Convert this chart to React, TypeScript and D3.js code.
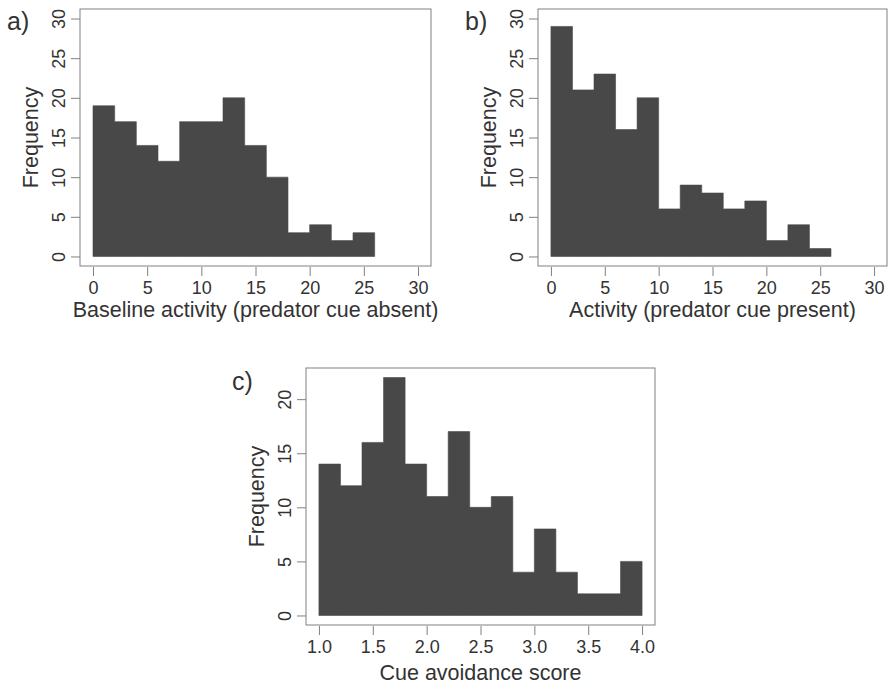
import React, { useEffect, useRef } from 'react';
import * as d3 from 'd3';

// histogram counts
const baselineEdges = [0, 2, 4, 6, 8, 10, 12, 14, 16, 18, 20, 22, 24, 26];
const baselineCounts = [19, 17, 14, 12, 17, 17, 20, 14, 10, 3, 4, 2, 3];

const presentEdges = [0, 2, 4, 6, 8, 10, 12, 14, 16, 18, 20, 22, 24, 26];
const presentCounts = [29, 21, 23, 16, 20, 6, 9, 8, 6, 7, 2, 4, 1];

const avoidanceEdges = [1.0, 1.2, 1.4, 1.6, 1.8, 2.0, 2.2, 2.4, 2.6, 2.8, 3.0, 3.2, 3.4, 3.6, 3.8, 4.0];
const avoidanceCounts = [14, 12, 16, 22, 14, 11, 17, 10, 11, 4, 8, 4, 2, 2, 5];

const activityTicks = [0, 5, 10, 15, 20, 25, 30];
const freqTicks = [0, 5, 10, 15, 20, 25, 30];
const avoidanceTicks = [1.0, 1.5, 2.0, 2.5, 3.0, 3.5, 4.0];
const avoidanceFreqTicks = [0, 5, 10, 15, 20];

const FONT = '"Liberation Sans", Arial, Helvetica, sans-serif';
const BAR = '#484848';
const FRAME = '#808080';
const INK = '#333';

type Panel = {
  edges: number[];
  counts: number[];
  xDomain: [number, number];
  yDomain: [number, number];
  box: { left: number; right: number; top: number; bottom: number };
  xTicks: number[];
  yTicks: number[];
  xFormat: (d: number) => string;
  xTitle: string;
  titleOffset: number;
  label: string;
  labelX: number;
  labelY: number;
};

const drawPanel = (svg: any, p: Panel) => {
  const { box } = p;
  const x = d3.scaleLinear().domain(p.xDomain).range([box.left, box.right]);
  const y = d3.scaleLinear().domain(p.yDomain).range([box.bottom, box.top]);
  const g = svg.append('g');

  // bars as one stepped area so neighbouring bins don't show seams
  const steps = p.edges.map((e, i) => ({ x0: e, n: p.counts[Math.min(i, p.counts.length - 1)] }));
  const area = d3
    .area<{ x0: number; n: number }>()
    .x((d) => x(d.x0))
    .y0(y(0))
    .y1((d) => y(d.n))
    .curve(d3.curveStepAfter);
  g.append('path')
    .attr('d', area(steps))
    .attr('fill', BAR)
    .attr('stroke', BAR)
    .attr('stroke-width', 0.6);

  // frame
  g.append('rect')
    .attr('x', box.left)
    .attr('y', box.top)
    .attr('width', box.right - box.left)
    .attr('height', box.bottom - box.top)
    .attr('fill', 'none')
    .attr('stroke', FRAME)
    .attr('stroke-width', 1);

  // x axis
  const xAxis = d3
    .axisBottom(x)
    .tickValues(p.xTicks)
    .tickSize(9)
    .tickFormat((d: any) => p.xFormat(d));
  const xg = g.append('g').attr('transform', `translate(0,${box.bottom + 1})`).call(xAxis);
  xg.select('.domain').remove();
  xg.selectAll('line').attr('stroke', FRAME);
  xg.selectAll('text')
    .attr('font-family', FONT)
    .attr('font-size', 18)
    .attr('fill', INK)
    .attr('dy', null)
    .attr('y', 27);

  // y axis (rotated labels like R's default las=0)
  const yAxis = d3.axisLeft(y).tickValues(p.yTicks).tickSize(9).tickFormat((d: any) => `${d}`);
  const yg = g.append('g').attr('transform', `translate(${box.left},0)`).call(yAxis);
  yg.select('.domain').remove();
  yg.selectAll('line').attr('stroke', FRAME);
  yg.selectAll('text')
    .attr('font-family', FONT)
    .attr('font-size', 18)
    .attr('fill', INK)
    .attr('x', null)
    .attr('dy', null)
    .attr('text-anchor', 'middle')
    .attr('transform', 'translate(-15,0) rotate(-90)');

  // axis titles
  g.append('text')
    .attr('x', (box.left + box.right) / 2)
    .attr('y', box.bottom + p.titleOffset)
    .attr('text-anchor', 'middle')
    .attr('font-family', FONT)
    .attr('font-size', 21.5)
    .attr('fill', INK)
    .text(p.xTitle);

  g.append('text')
    .attr('transform', `translate(${box.left - 42},${(box.top + box.bottom) / 2}) rotate(-90)`)
    .attr('text-anchor', 'middle')
    .attr('font-family', FONT)
    .attr('font-size', 21.5)
    .attr('fill', INK)
    .text('Frequency');

  // panel letter
  g.append('text')
    .attr('x', p.labelX)
    .attr('y', p.labelY)
    .attr('font-family', FONT)
    .attr('font-size', 25)
    .attr('fill', INK)
    .text(p.label);
};

const App = () => {
  const ref = useRef<HTMLDivElement>(null);

  useEffect(() => {
    const width = 889;
    const height = 686;
    const svg = d3
      .create('svg')
      .attr('width', width)
      .attr('height', height)
      .style('position', 'absolute')
      .style('left', '0px')
      .style('top', '0px')
      .style('background', '#fff');

    drawPanel(svg, {
      edges: baselineEdges,
      counts: baselineCounts,
      xDomain: [-1.2, 31.2],
      yDomain: [-1.2, 31.2],
      box: { left: 80, right: 431, top: 9, bottom: 266 },
      xTicks: activityTicks,
      yTicks: freqTicks,
      xFormat: (d) => `${d}`,
      xTitle: 'Baseline activity (predator cue absent)',
      titleOffset: 51,
      label: 'a)',
      labelX: 7,
      labelY: 30,
    });

    drawPanel(svg, {
      edges: presentEdges,
      counts: presentCounts,
      xDomain: [-1.2, 31.2],
      yDomain: [-1.2, 31.2],
      box: { left: 538, right: 887, top: 9, bottom: 266 },
      xTicks: activityTicks,
      yTicks: freqTicks,
      xFormat: (d) => `${d}`,
      xTitle: 'Activity (predator cue present)',
      titleOffset: 51,
      label: 'b)',
      labelX: 465,
      labelY: 30,
    });

    drawPanel(svg, {
      edges: avoidanceEdges,
      counts: avoidanceCounts,
      xDomain: [0.88, 4.12],
      yDomain: [-0.88, 22.88],
      box: { left: 306, right: 655, top: 368, bottom: 625 },
      xTicks: avoidanceTicks,
      yTicks: avoidanceFreqTicks,
      xFormat: (d) => d3.format('.1f')(d),
      xTitle: 'Cue avoidance score',
      titleOffset: 55,
      label: 'c)',
      labelX: 232,
      labelY: 390,
    });

    const node = svg.node();
    if (ref.current && node) {
      ref.current.innerHTML = '';
      ref.current.appendChild(node);
    }
  }, []);

  return <div ref={ref}></div>;
};

export default App;
